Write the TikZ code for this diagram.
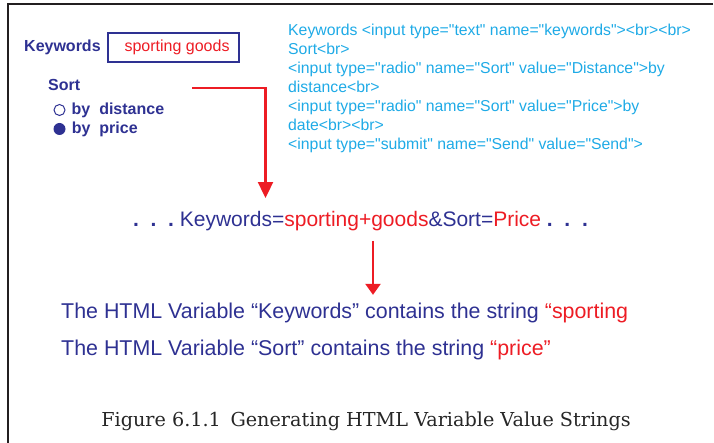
\documentclass[tikz,border=0pt]{standalone}
\usepackage{fontspec}
\setsansfont{Liberation Sans}[Ligatures=TeXOff]
\newfontfamily\capfont{DejaVu Serif}
\usetikzlibrary{arrows.meta,positioning}
\definecolor{navy}{RGB}{46,49,146}
\definecolor{hotred}{RGB}{237,28,36}
\definecolor{codeblue}{RGB}{30,170,230}
\definecolor{framegray}{RGB}{35,31,32}

\begin{document}
\begin{tikzpicture}[x=1pt,y=-1pt,font=\sffamily,>={Triangle[width=15pt,length=16pt]}]
  \tikzstyle{label}=[inner sep=0pt,anchor=west,text=navy,font=\sffamily\bfseries\fontsize{16}{19}\selectfont]
  \tikzstyle{bigline}=[inner sep=0pt,anchor=west,text=navy,font=\sffamily\fontsize{21.4}{25}\selectfont]
  \tikzstyle{redline}=[hotred,line width=2.3pt]

  \useasboundingbox (0,0) rectangle (714,443);
  \draw[framegray,line width=2.5pt] (713,4) -- (8,4) -- (8,443);

  % form on the left
  \node[label]                  (kw)     at (24,47) {Keywords};
  \node[draw=navy,line width=1.2pt,minimum width=131pt,minimum height=29pt,inner sep=0pt]
                                (kwbox)  at (173.5,47.5) {};
  \node[label,font=\sffamily\fontsize{16}{19}\selectfont,text=hotred,right=17pt of kwbox.west]
                                (kwval)  {sporting goods};
  \node[label]                  (sort)   at (48,85) {Sort};
  \node[circle,draw=navy,line width=1pt,minimum size=11pt,inner sep=0pt] (rdist)  at (59.5,110) {};
  \node[circle,fill=navy,minimum size=12pt,inner sep=0pt]                (rprice) at (59.5,129) {};
  \node[label,right=6pt of rdist]  (ldist)  {by~~distance};
  \node[label,right=6pt of rprice] (lprice) {by~~price};

  % html source
  \node[anchor=north west,inner sep=0pt,align=left,text=codeblue,
        font=\sffamily\fontsize{15.8}{19}\selectfont] (code) at (288,24)
    {Keywords <input type="text" name="keywords"><br><br>\\
     Sort<br>\\
     <input type="radio" name="Sort" value="Distance">by\\
     distance<br>\\
     <input type="radio" name="Sort" value="Price">by\\
     date<br><br>\\
     <input type="submit" name="Send" value="Send">};

  % query string and result
  \node[bigline,font=\sffamily\fontsize{21}{25}\selectfont] (query) at (133,221)
    {\textbf{.~~.~~.}~Keywords=\textcolor{hotred}{sporting+goods}\&Sort=\textcolor{hotred}{Price}~\textbf{.~~.~~.}};
  \node[bigline] (res1) at (61,313)
    {The HTML Variable “Keywords” contains the string \textcolor{hotred}{“sporting}};
  \node[bigline] (res2) at (61,350)
    {The HTML Variable “Sort” contains the string \textcolor{hotred}{“price”}};

  \coordinate (sortline) at (192,88);
  \coordinate (bend)     at (265.5,88);
  \coordinate (split)    at (373,0);
  \draw[redline,->,shorten >=13pt] (sortline) -- (bend) -- (bend |- query.north);
  \draw[redline,->,>={Triangle[width=15pt,length=11pt]},shorten <=10pt,shorten >=8pt]
    (query.south -| split) -- (res1.north -| split);

  \node[font=\capfont\fontsize{19.2}{23}\selectfont,text=black!85] (caption) at (366,421)
    {Figure 6.1.1\enspace Generating HTML Variable Value Strings};
\end{tikzpicture}
\end{document}
